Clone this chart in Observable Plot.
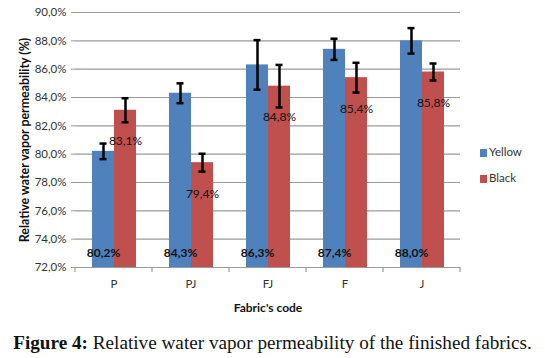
<!DOCTYPE html>
<html>
<head>
<meta charset="utf-8">
<script src="https://cdn.jsdelivr.net/npm/d3@7"></script>
<script src="https://cdn.jsdelivr.net/npm/@observablehq/plot@0.6"></script>
<style>
  body { margin: 0; background: #fff; width: 545px; height: 358px; overflow: hidden; position: relative; }
  #chart svg { display: block; }
  #legend { position: absolute; left: 480px; top: 145px; font-family: Lato, "Open Sans", sans-serif; font-size: 11.5px; color: #333; }
  #legend div { height: 14px; line-height: 14px; margin-bottom: 12px; white-space: nowrap; }
  #legend span.sw { display: inline-block; width: 7px; height: 8px; margin-right: 2px; vertical-align: -1px; }
  #caption { position: absolute; left: 0; width: 545px; top: 332px; text-align: center; font-family: "Liberation Serif", "DejaVu Serif", serif; font-size: 19.2px; color: #111; line-height: 22px; white-space: nowrap; }
</style>
</head>
<body>
<div id="chart"></div>
<div id="legend"></div>
<div id="caption"><b>Figure 4:</b> Relative water vapor permeability of the finished fabrics.</div>
<script>
const codes = ["P", "PJ", "FJ", "F", "J"];
const seriesNames = ["Yellow", "Black"];
const seriesColors = ["#4F81BD", "#C0504D"];
const yellowValues = [80.2, 84.3, 86.3, 87.4, 88.0];
const blackValues = [83.1, 79.4, 84.8, 85.4, 85.8];
const yellowErrors = [0.55, 0.7, 1.75, 0.75, 0.9];
const blackErrors = [0.85, 0.63, 1.5, 1.05, 0.6];
const yTicks = [72, 74, 76, 78, 80, 82, 84, 86, 88, 90];

const rows = [];
codes.forEach((c, i) => {
  rows.push({code: c, series: "Yellow", value: yellowValues[i], err: yellowErrors[i]});
  rows.push({code: c, series: "Black", value: blackValues[i], err: blackErrors[i]});
});
const fmt = v => v.toFixed(1).replace(".", ",") + "%";
const base = yTicks[0];

const font = 'Lato, "Open Sans", sans-serif';
const chart = Plot.plot({
  width: 545,
  height: 332,
  marginLeft: 74,
  marginRight: 84,
  marginTop: 12,
  marginBottom: 65,
  style: {fontFamily: font, fontSize: "11px", color: "#333"},
  fx: {domain: codes, padding: 0, label: null, axis: null},
  x: {domain: seriesNames, paddingInner: 0, paddingOuter: 0.75, axis: null},
  y: {domain: [72, 90], ticks: yTicks, axis: null},
  color: {type: "ordinal", domain: seriesNames, range: seriesColors},
  marks: [
    Plot.gridY(yTicks, {stroke: "#9a9a9a", strokeOpacity: 1, strokeWidth: 1.2}),
    Plot.axisY(yTicks, {anchor: "left", tickFormat: fmt, tickSize: 4, tickPadding: 5, stroke: "#9a9a9a", label: null, fontSize: 11.5}),
    Plot.axisY([], {anchor: "left", label: "Relative water vapor permeability (%)", labelAnchor: "center", labelArrow: "none", labelOffset: 55, fontSize: 12.4, fontWeight: "bold", fill: "#111"}),
    Plot.axisFx({anchor: "bottom", tickSize: 0, tickPadding: 12, label: null, fontSize: 11.5}),
    Plot.axisFx([], {anchor: "bottom", label: "Fabric's code", labelAnchor: "center", labelOffset: 44, labelArrow: "none", fontSize: 12, fontWeight: "bold", fill: "#111"}),
    Plot.barY(rows, {fx: "code", x: "series", y1: base, y2: "value", fill: {value: "series", scale: "color"}}),
    Plot.ruleX(rows, {fx: "code", x: "series", y1: d => d.value - d.err, y2: d => d.value + d.err, stroke: "#000", strokeWidth: 2.5}),
    Plot.tickY(rows, {fx: "code", x: "series", y: d => d.value + d.err, stroke: "#000", strokeWidth: 2.5, insetLeft: 7.5, insetRight: 7.5}),
    Plot.tickY(rows, {fx: "code", x: "series", y: d => d.value - d.err, stroke: "#000", strokeWidth: 2.5, insetLeft: 7.5, insetRight: 7.5}),
    Plot.ruleY([base], {stroke: "#9a9a9a", strokeWidth: 1.2}),
    Plot.text(rows.filter(d => d.series === "Yellow"), {fx: "code", x: "series", y: base, text: d => fmt(d.value), dy: -14, fill: "#111", fontWeight: "bold", fontSize: 12}),
    Plot.text(rows.filter(d => d.series === "Black"), {fx: "code", x: "series", y: "value", text: d => fmt(d.value), dy: 31, fill: "#111", fontSize: 12})
  ]
});
document.getElementById("chart").appendChild(chart);

// category boundary tick marks on the bottom axis, from Plot's own fx and y scales
const fxs = chart.scale("fx");
const ys = chart.scale("y");
const svg = d3.select(chart);
const bw = fxs.bandwidth;
const edges = codes.map(c => fxs.apply(c)).concat([fxs.apply(codes[codes.length - 1]) + bw]);
const y0 = ys.apply(base);
svg.append("g").selectAll("line").data(edges).join("line")
  .attr("x1", d => d).attr("x2", d => d)
  .attr("y1", y0).attr("y2", y0 + 5)
  .attr("stroke", "#9a9a9a").attr("stroke-width", 1.2);

const legend = document.getElementById("legend");
seriesNames.forEach((s, i) => {
  const row = document.createElement("div");
  row.innerHTML = `<span class="sw" style="background:${seriesColors[i]}"></span>${s}`;
  legend.appendChild(row);
});
</script>
</body>
</html>
